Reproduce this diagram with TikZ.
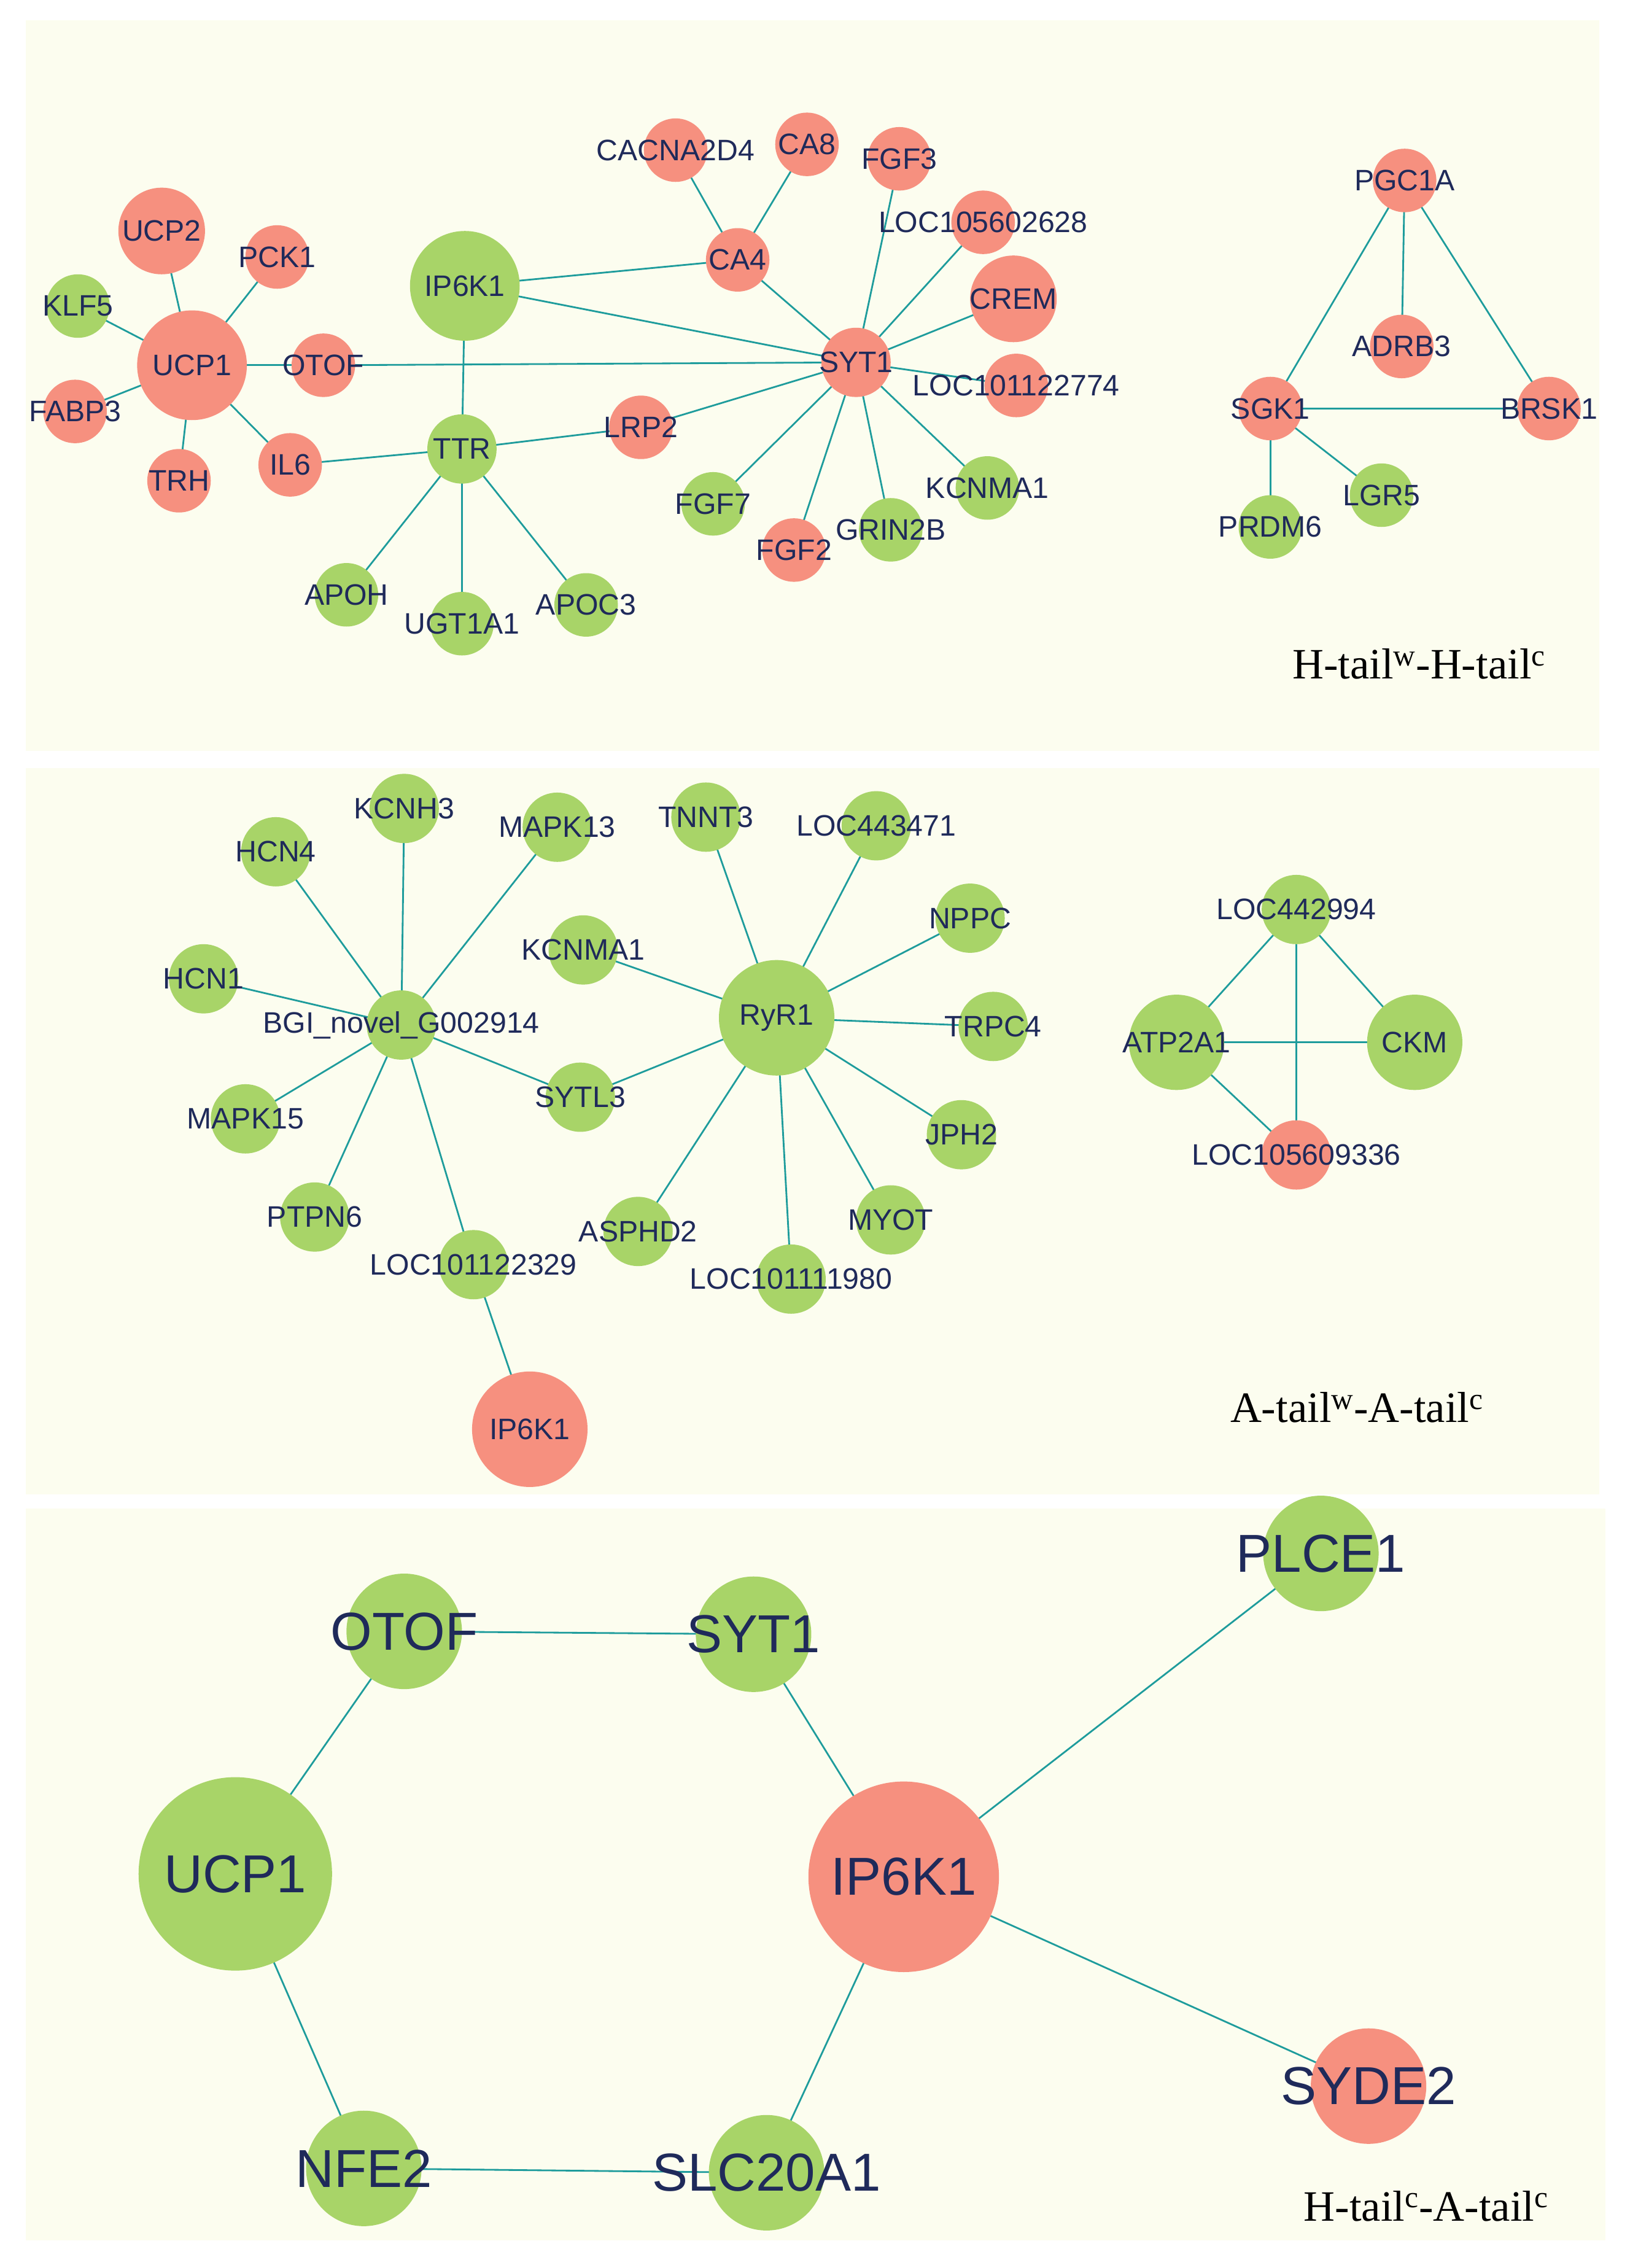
\documentclass[tikz,border=0pt]{standalone}
\usepackage{fontspec}
\setmainfont{Liberation Sans}
\newfontfamily\serifF{Liberation Serif}
\pgfdeclarelayer{bg}\pgfdeclarelayer{edges}
\pgfsetlayers{bg,edges,main}
\definecolor{pan}{HTML}{FCFDEF}
\definecolor{gc}{HTML}{A8D468}
\definecolor{rc}{HTML}{F6907F}
\definecolor{ec}{HTML}{1E9C9C}
\definecolor{tc}{HTML}{1F2A5A}
\tikzset{
 nd/.style={circle,inner sep=0pt,minimum size=#1},
 tx/.style={text=tc,font=\fontsize{20.5}{20.5}\selectfont,inner sep=0pt},
 bx/.style={text=tc,font=\fontsize{37}{37}\selectfont,inner sep=0pt},
 ed/.style={draw=ec,line width=1.2pt},
 ttl/.style={font=\serifF\fontsize{30}{30}\selectfont,text=black}
}
\newcommand\Nd[7]{\node[nd=#4,fill=#5] (#1) at (#2,#3) {}; \node[#6] at (#1) {#7};}
\begin{document}
\begin{tikzpicture}[x=1pt,y=-1pt]
\useasboundingbox (0,0) rectangle (1129,1571);
\begin{pgfonlayer}{bg}
\fill[white] (0,0) rectangle (1129,1571);
\fill[pan] (18,14) rectangle (1108,520);
\fill[pan] (18,532) rectangle (1108,1035);
\fill[pan] (18,1045) rectangle (1112,1552);
\end{pgfonlayer}
% panel 1
\Nd{aUCPb}{112}{160}{60}{rc}{tx}{UCP2}
\Nd{aPCK}{192}{178}{44}{rc}{tx}{PCK1}
\Nd{aKLF}{54}{212}{44}{gc}{tx}{KLF5}
\Nd{aUCP}{133}{253}{76}{rc}{tx}{UCP1}
\Nd{aOTOF}{224}{253}{44}{rc}{tx}{OTOF}
\Nd{aFAB}{52}{285}{44}{rc}{tx}{FABP3}
\Nd{aTRH}{124}{333}{44}{rc}{tx}{TRH}
\Nd{aIL}{201}{322}{44}{rc}{tx}{IL6}
\Nd{aIP}{322}{198}{76}{gc}{tx}{IP6K1}
\Nd{aTTR}{320}{311}{48}{gc}{tx}{TTR}
\Nd{aLRP}{444}{296}{44}{rc}{tx}{LRP2}
\Nd{aAPOH}{240}{412}{44}{gc}{tx}{APOH}
\Nd{aUGT}{320}{432}{44}{gc}{tx}{UGT1A1}
\Nd{aAPOC}{406}{419}{44}{gc}{tx}{APOC3}
\Nd{aCAC}{468}{104}{44}{rc}{tx}{CACNA2D4}
\Nd{aCAe}{559}{100}{44}{rc}{tx}{CA8}
\Nd{aFGFc}{623}{110}{44}{rc}{tx}{FGF3}
\Nd{aCAf}{511}{180}{44}{rc}{tx}{CA4}
\Nd{aLOCa}{681}{154}{44}{rc}{tx}{LOC105602628}
\Nd{aCREM}{702}{207}{60}{rc}{tx}{CREM}
\Nd{aSYT}{593}{251}{48}{rc}{tx}{SYT1}
\Nd{aLOCb}{704}{267}{44}{rc}{tx}{LOC101122774}
\Nd{aFGFg}{494}{349}{44}{gc}{tx}{FGF7}
\Nd{aFGFb}{550}{381}{44}{rc}{tx}{FGF2}
\Nd{aGRIN}{617}{367}{44}{gc}{tx}{GRIN2B}
\Nd{aKCN}{684}{338}{44}{gc}{tx}{KCNMA1}
\Nd{aPGC}{973}{125}{44}{rc}{tx}{PGC1A}
\Nd{aADR}{971}{240}{44}{rc}{tx}{ADRB3}
\Nd{aSGK}{880}{283}{44}{rc}{tx}{SGK1}
\Nd{aBRS}{1073}{283}{44}{rc}{tx}{BRSK1}
\Nd{aLGR}{957}{343}{44}{gc}{tx}{LGR5}
\Nd{aPRD}{880}{365}{44}{gc}{tx}{PRDM6}
\node[ttl] at (983,460) {H-tail\textsuperscript{w}-H-tail\textsuperscript{c}};
% panel 2
\Nd{bHCNd}{191}{590}{48}{gc}{tx}{HCN4}
\Nd{bKCNH}{280}{560}{48}{gc}{tx}{KCNH3}
\Nd{bMAPa}{386}{573}{48}{gc}{tx}{MAPK13}
\Nd{bTNN}{489}{566}{48}{gc}{tx}{TNNT3}
\Nd{bLOCa}{607}{572}{48}{gc}{tx}{LOC443471}
\Nd{bNPPC}{672}{636}{48}{gc}{tx}{NPPC}
\Nd{bKCN}{404}{658}{48}{gc}{tx}{KCNMA1}
\Nd{bHCNa}{141}{678}{48}{gc}{tx}{HCN1}
\Nd{bBGI}{278}{710}{48}{gc}{tx}{BGI\_novel\_G002914}
\Nd{bRYR}{538}{705}{80}{gc}{tx}{RyR1}
\Nd{bTRP}{688}{711}{48}{gc}{tx}{TRPC4}
\Nd{bSYT}{402}{760}{48}{gc}{tx}{SYTL3}
\Nd{bMAPb}{170}{775}{48}{gc}{tx}{MAPK15}
\Nd{bJPH}{666}{786}{48}{gc}{tx}{JPH2}
\Nd{bPTP}{218}{843}{48}{gc}{tx}{PTPN6}
\Nd{bASP}{442}{853}{48}{gc}{tx}{ASPHD2}
\Nd{bMYO}{617}{845}{48}{gc}{tx}{MYOT}
\Nd{bLOCb}{328}{876}{48}{gc}{tx}{LOC101122329}
\Nd{bLOCc}{548}{886}{48}{gc}{tx}{LOC101111980}
\Nd{bIP}{367}{990}{80}{rc}{tx}{IP6K1}
\Nd{bLOCd}{898}{630}{48}{gc}{tx}{LOC442994}
\Nd{bATP}{815}{722}{66}{gc}{tx}{ATP2A1}
\Nd{bCKM}{980}{722}{66}{gc}{tx}{CKM}
\Nd{bLOCe}{898}{800}{48}{rc}{tx}{LOC105609336}
\node[ttl] at (940,975) {A-tail\textsuperscript{w}-A-tail\textsuperscript{c}};
% panel 3
\Nd{cOTOF}{280}{1130}{80}{gc}{bx}{OTOF}
\Nd{cSYT}{522}{1132}{80}{gc}{bx}{SYT1}
\Nd{cPLC}{915}{1076}{80}{gc}{bx}{PLCE1}
\Nd{cUCP}{163}{1298}{134}{gc}{bx}{UCP1}
\Nd{cIP}{626}{1300}{132}{rc}{bx}{IP6K1}
\Nd{cSYD}{948}{1445}{80}{rc}{bx}{SYDE2}
\Nd{cNFE}{252}{1502}{80}{gc}{bx}{NFE2}
\Nd{cSLC}{531}{1505}{80}{gc}{bx}{SLC20A1}
\node[ttl] at (988,1528) {H-tail\textsuperscript{c}-A-tail\textsuperscript{c}};
\begin{pgfonlayer}{edges}
\foreach \a/\b in {aUCP/aUCPb,aUCP/aPCK,aUCP/aKLF,aUCP/aOTOF,aOTOF/aSYT,aUCP/aFAB,aUCP/aTRH,aUCP/aIL,aIL/aTTR,aTTR/aLRP,aLRP/aSYT,aTTR/aIP,aTTR/aAPOH,aTTR/aUGT,aTTR/aAPOC,aIP/aCAf,aIP/aSYT,aCAf/aCAC,aCAf/aCAe,aCAf/aSYT,aSYT/aFGFc,aSYT/aLOCa,aSYT/aCREM,aSYT/aLOCb,aSYT/aFGFg,aSYT/aFGFb,aSYT/aGRIN,aSYT/aKCN,aPGC/aADR,aPGC/aSGK,aPGC/aBRS,aSGK/aBRS,aSGK/aLGR,aSGK/aPRD,
 bBGI/bHCNd,bBGI/bKCNH,bBGI/bMAPa,bBGI/bHCNa,bBGI/bMAPb,bBGI/bPTP,bBGI/bLOCb,bBGI/bSYT,bSYT/bRYR,bKCN/bRYR,bRYR/bTNN,bRYR/bLOCa,bRYR/bNPPC,bRYR/bTRP,bRYR/bJPH,bRYR/bMYO,bRYR/bLOCc,bRYR/bASP,bLOCb/bIP,bLOCd/bATP,bLOCd/bCKM,bATP/bCKM,bLOCd/bLOCe,bATP/bLOCe,
 cOTOF/cSYT,cOTOF/cUCP,cSYT/cIP,cIP/cPLC,cIP/cSYD,cIP/cSLC,cSLC/cNFE,cNFE/cUCP}
 \draw[ed] (\a.center) -- (\b.center);
\end{pgfonlayer}
\end{tikzpicture}
\end{document}
